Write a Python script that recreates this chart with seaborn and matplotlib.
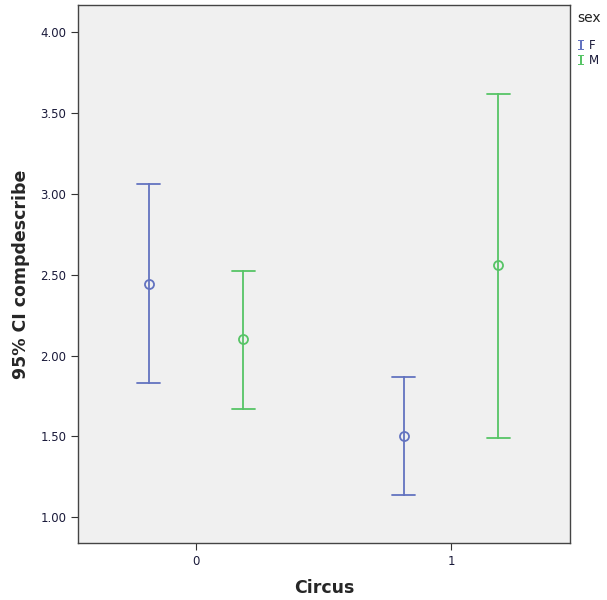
import numpy as np
import pandas as pd
import seaborn as sns
import matplotlib.pyplot as plt
from matplotlib.lines import Line2D

# values (95% CI: lower, mean, upper)
circus = ["0", "0", "1", "1"]
sex = ["F", "M", "F", "M"]
ci_lower = [1.83, 1.67, 1.14, 1.49]
means = [2.44, 2.10, 1.50, 2.56]
ci_upper = [3.06, 2.525, 1.865, 3.62]

colors = {"F": "#6373c0", "M": "#57c466"}

# long table: lower / mean / upper per group, median gives the mean back
rows = []
for c, s, lo, m, hi in zip(circus, sex, ci_lower, means, ci_upper):
    for v in (lo, m, hi):
        rows.append({"Circus": c, "sex": s, "compdescribe": v})
df = pd.DataFrame(rows)

sns.set_style("ticks")
plt.rcParams["font.family"] = ["DejaVu Sans"]

fig = plt.figure(figsize=(6.07, 6.0), dpi=100)
ax = fig.add_axes([0.1285, 0.095, 0.8105, 0.8967])
ax.set_facecolor("#f0f0f0")

sns.pointplot(data=df, x="Circus", y="compdescribe", hue="sex",
              order=["0", "1"], hue_order=["F", "M"], palette=colors,
              estimator="median", errorbar=lambda x: (x.min(), x.max()),
              dodge=0.37, linestyle="none", markers="o", capsize=0.09,
              err_kws={"linewidth": 1.3}, markersize=6.5,
              markerfacecolor="none", markeredgewidth=1.3, legend=False,
              ax=ax)

ax.set_xlim(-0.463, 1.467)
ax.set_ylim(0.84, 4.17)
ax.set_yticks([1.0, 1.5, 2.0, 2.5, 3.0, 3.5, 4.0])
ax.set_yticklabels([f"{t:.2f}" for t in ax.get_yticks()])
ax.tick_params(labelsize=8.5, length=5, color="#333333", labelcolor="#1a1a3a")
for sp in ax.spines.values():
    sp.set_visible(True)
    sp.set_color("#444444")
    sp.set_linewidth(1.0)

ax.set_xlabel("Circus", fontsize=12.5, fontweight="bold", labelpad=8)
ax.set_ylabel("95% CI compdescribe", fontsize=12.5, fontweight="bold", labelpad=7)

# legend: title as text, entries with I-shaped error bar glyphs
fig.text(577 / 607, 1 - 18 / 600, "sex", fontsize=10, va="center", ha="left",
         color="#222222")
handles = [Line2D([], [], marker="$\\mathtt{I}$", linestyle="none",
                  color=colors[s], markersize=7, markeredgewidth=0)
           for s in ["F", "M"]]
leg = fig.legend(handles, ["F", "M"], loc="upper left",
                 bbox_to_anchor=(575 / 607, 1 - 39 / 600), frameon=False,
                 fontsize=8.5, handletextpad=0.2, borderaxespad=0.0,
                 borderpad=0.0, labelspacing=0.2, handlelength=1.0)
for t in leg.get_texts():
    t.set_color("#1a1a3a")

fig.savefig("out.png", dpi=100)
